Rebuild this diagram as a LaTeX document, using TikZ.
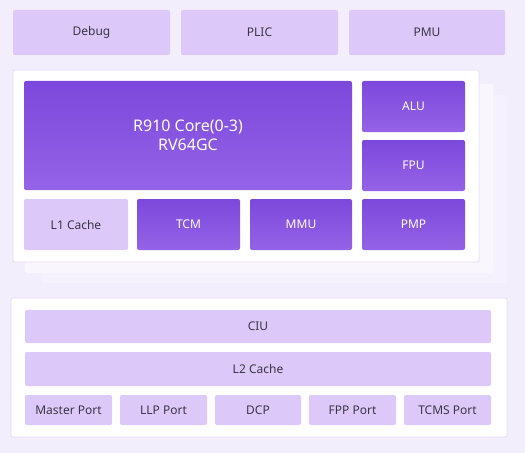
\documentclass[tikz,border=0pt]{standalone}
\usepackage{fontspec}
\setmainfont{Noto Sans}
\definecolor{bgpale}{HTML}{F3EEFC}
\definecolor{lilac}{HTML}{DCC9FA}
\definecolor{violettop}{HTML}{7B48DC}
\definecolor{violetbot}{HTML}{9563E6}
\definecolor{inkgray}{HTML}{3A3645}
\definecolor{panelB}{HTML}{F9F6FE}
\definecolor{panelC}{HTML}{F6F2FD}
\definecolor{haze}{HTML}{E6DBFA}
\tikzset{
  sz/.style 2 args={minimum width=#1*0.75pt, minimum height=#2*0.75pt},
  lightbox/.style={fill=lilac, rounded corners=1.5pt, inner sep=0pt,
    text=inkgray, font=\fontsize{9}{11}\selectfont},
  darkbox/.style={top color=violettop, bottom color=violetbot, rounded corners=1.5pt,
    inner sep=0pt, text=white, font=\fontsize{9}{11}\selectfont},
  panel/.style={fill=white, draw=haze, line width=0.6pt, rounded corners=1.5pt}
}
\begin{document}
\begin{tikzpicture}[x=0.75pt,y=-0.75pt]
    \fill[bgpale] (0,0) rectangle (525,453);
    \useasboundingbox (0,0) rectangle (525,453);
    % top row
    \node[lightbox, sz={157}{45}] (dbg) at (91.5, 32.5) {Debug};
    \node[lightbox, sz={157}{45}] (plic) at (259.5, 32.5) {PLIC};
    \node[lightbox, sz={156}{45}] (pmu) at (427, 32.5) {PMU};
    % stacked core panels
    \fill[panelC, rounded corners=1.5pt] (42,95) rectangle (507,283);
    \fill[panelB, rounded corners=1.5pt] (25,84) rectangle (493,273);
    \path[panel] (13,70) rectangle (479,262);
    \node[darkbox, sz={328}{109}, font=\fontsize{12}{14.5}\selectfont, align=center] (core) at (188, 135.5) {R910 Core(0-3)\\RV64GC};
    \node[darkbox, sz={103}{51}] (alu) at (413.5, 106.5) {ALU};
    \node[darkbox, sz={103}{51}] (fpu) at (413.5, 165.5) {FPU};
    \node[lightbox, sz={104}{51}] (lone) at (76, 224.5) {L1 Cache};
    \node[darkbox, sz={103}{51}] (tcm) at (188.5, 224.5) {TCM};
    \node[darkbox, sz={102}{51}] (mmu) at (301, 224.5) {MMU};
    \node[darkbox, sz={103}{51}] (pmp) at (413.5, 224.5) {PMP};
    % uncore panel
    \path[panel] (11,298) rectangle (507,437);
    \node[lightbox, sz={466}{33}] (ciu) at (258, 326.5) {CIU};
    \node[lightbox, sz={466}{34}] (ltwo) at (258, 369) {L2 Cache};
    \node[lightbox, sz={87}{30}] (mport) at (68.5, 410) {Master Port};
    \node[lightbox, sz={87}{30}] (llp) at (163.5, 410) {LLP Port};
    \node[lightbox, sz={86}{30}] (dcp) at (258, 410) {DCP};
    \node[lightbox, sz={87}{30}] (fpp) at (352.5, 410) {FPP Port};
    \node[lightbox, sz={87}{30}] (tcms) at (447.5, 410) {TCMS Port};
\end{tikzpicture}
\end{document}
